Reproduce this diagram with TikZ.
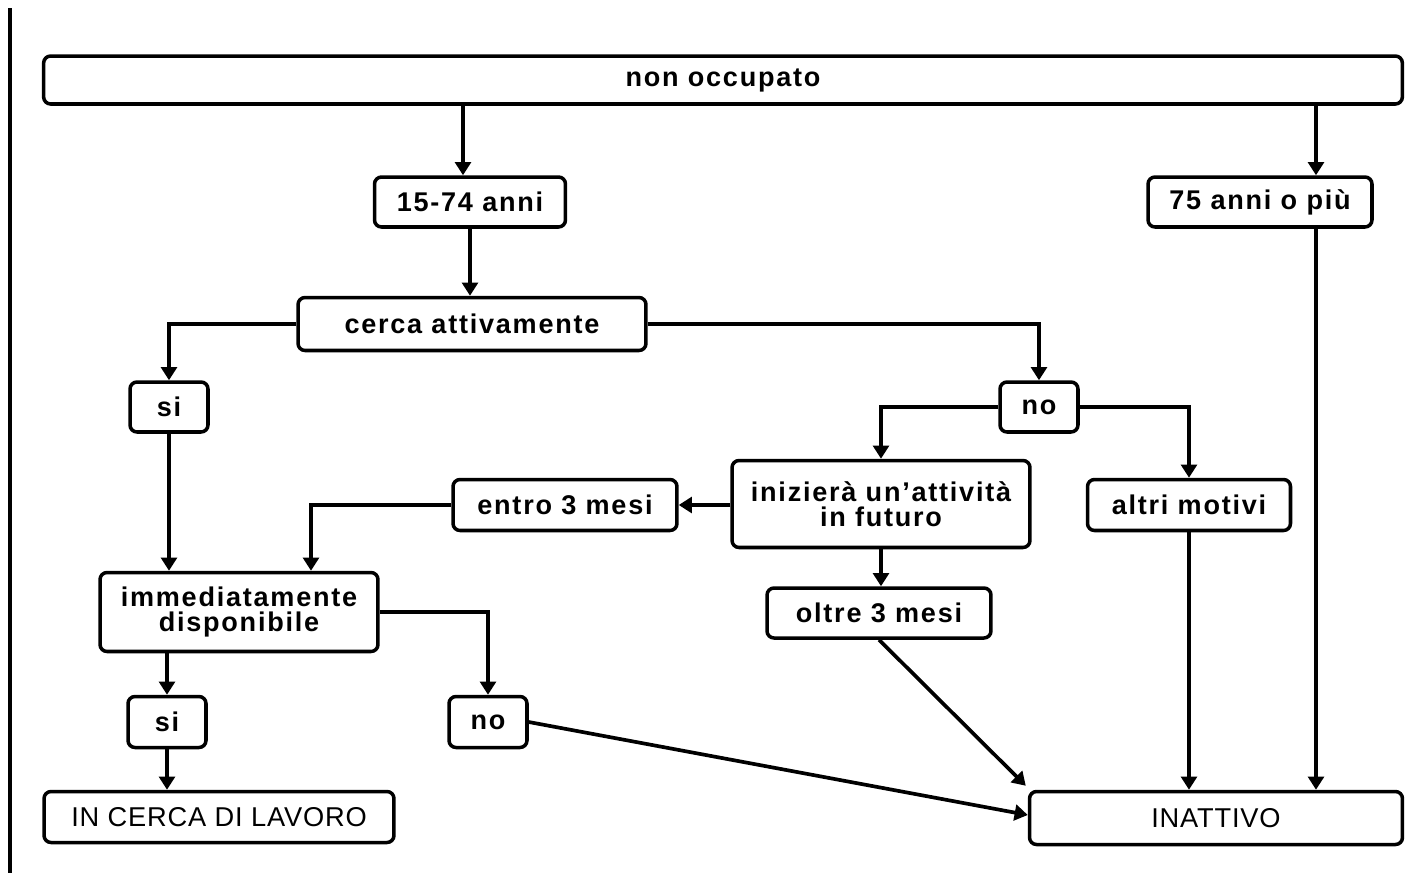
\documentclass[tikz,border=0pt]{standalone}
\usepackage{fontspec}
\setmainfont{Liberation Sans}
\usepackage{tikz}
\usetikzlibrary{calc}
\usetikzlibrary{arrows.meta}
\tikzstyle{stato} = [rectangle,
rounded corners=4pt,
inner sep=0pt,
align=center,
text centered,
line width=2pt,
draw=black,
fill=white,
font=\fontsize{15.4}{14.5}\selectfont\bfseries\addfontfeatures{LetterSpace=6.5}]
\tikzstyle{esito} = [stato, font=\fontsize{15.5}{14.5}\selectfont\addfontfeatures{LetterSpace=3}]
\tikzstyle{arrow} = [line width=2.1pt,-{Triangle[length=7.5pt,width=9pt]}]

\begin{document}
\begin{tikzpicture}[x=0.02cm, y=-0.02cm]
    \useasboundingbox (0,0) rectangle (1420,873);
    \draw [line width=2pt] (10,8) -- (10,873);

    \node (top) [stato, minimum width=27.18cm, minimum height=0.96cm] at (723,80) {non occupato};

    \node (eta1) [stato, minimum width=3.82cm, minimum height=1cm] at (470,202) {15-74 anni};
    \node (eta2) [stato, minimum width=4.48cm, minimum height=1cm] at (1260,202) {75 anni o più};
    \node (cerca) [stato, minimum width=6.96cm, minimum height=1.06cm] at (472,324) {cerca attivamente};

    \node (si1) [stato, minimum width=1.56cm, minimum height=1cm] at (169,407) {si};
    \node (no1) [stato, minimum width=1.56cm, minimum height=1cm] at (1039,407) {no};

    \node (inizia) [stato, minimum width=5.96cm, minimum height=1.74cm] at (881,504) {inizierà un'attività\\in futuro};
    \node (entro) [stato, minimum width=4.48cm, minimum height=1.02cm] at (565,505) {entro 3 mesi};
    \node (altri) [stato, minimum width=4.06cm, minimum height=1.02cm] at (1189,505) {altri motivi};
    \node (oltre) [stato, minimum width=4.48cm, minimum height=1cm] at (879,613) {oltre 3 mesi};

    \node (immed) [stato, minimum width=5.56cm, minimum height=1.58cm] at (239,612) {immediatamente\\disponibile};
    \node (si2) [stato, minimum width=1.56cm, minimum height=1.02cm] at (167,722) {si};
    \node (no2) [stato, minimum width=1.56cm, minimum height=1.02cm] at (488,722) {no};

    \node (lavoro) [esito, minimum width=7cm, minimum height=1.02cm] at (219,817) {IN CERCA DI LAVORO};
    \node (inattivo) [esito, minimum width=7.46cm, minimum height=1.06cm] at (1216,818) {INATTIVO};

    % eta
    \coordinate (x1) at (463,0);
    \coordinate (x2) at (1316,0);
    \draw [arrow] (top.south -| x1) -- (eta1.north -| x1);
    \draw [arrow] (top.south -| x2) -- (eta2.north -| x2);
    \draw [arrow] (eta2.south -| x2) -- (inattivo.north -| x2);
    \draw [arrow] (eta1.south) -- (eta1.south |- cerca.north);

    % ricerca
    \draw [arrow] (cerca.west) -| (si1.north);
    \draw [arrow] (cerca.east) -| (no1.north);
    \draw [arrow] (si1.south) -- (si1.south |- immed.north);
    \draw [arrow] (no1.west) -| (inizia.north);
    \draw [arrow] (no1.east) -| (altri.north);
    \draw [arrow] (inizia.west |- entro.east) -- (entro.east);
    \draw [arrow] (inizia.south) -- (inizia.south |- oltre.north);

    \coordinate (x3) at (311,0);
    \draw [arrow] (entro.west) -| (immed.north -| x3);

    % disponibilita
    \draw [arrow] (si2.north |- immed.south) -- (si2.north);
    \draw [arrow] (immed.east) -| (no2.north);
    \draw [arrow] (si2.south) -- (si2.south |- lavoro.north);

    % inattivi
    \draw [arrow] (no2.east) -- ($(inattivo.west) + (0,-3)$);
    \draw [arrow] (oltre.south) -- ($(inattivo.north west) + (-2,-4)$);
    \draw [arrow] (altri.south) -- (altri.south |- inattivo.north);
  \end{tikzpicture}
\end{document}
